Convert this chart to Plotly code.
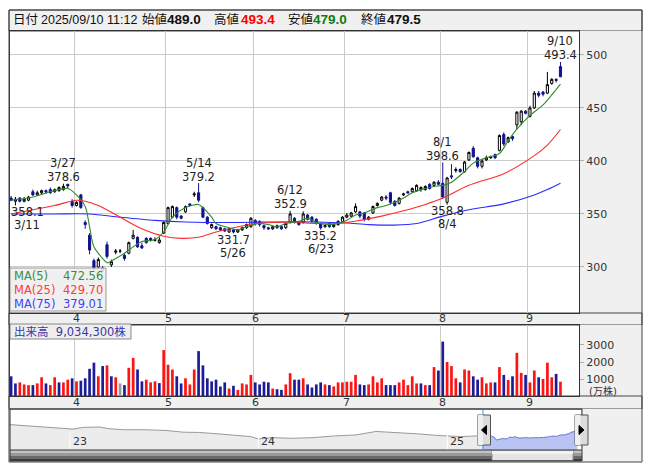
import plotly.graph_objects as go

# figure sits inside the page's default 8px body margin; coordinates below are page pixels
W, H = 637, 456
OFF = 8
def px(x): return (x - OFF) / W
def py(y): return 1 - (y - OFF) / H

# ---------------- data ----------------
MONTH_DAYS = {
    3: [10, 11, 12, 13, 14, 17, 18, 19, 21, 24, 25, 26, 27, 28, 31],
    4: [1, 2, 3, 4, 7, 8, 9, 10, 11, 14, 15, 16, 17, 18, 21, 22, 23, 24, 25, 28, 30],
    5: [1, 2, 7, 8, 9, 12, 13, 14, 15, 16, 19, 20, 21, 22, 23, 26, 27, 28, 29, 30],
    6: [2, 3, 4, 5, 6, 9, 10, 11, 12, 13, 16, 17, 18, 19, 20, 23, 24, 25, 26, 27, 30],
    7: [1, 2, 3, 4, 7, 8, 9, 10, 11, 14, 15, 16, 17, 18, 22, 23, 24, 25, 28, 29, 30, 31],
    8: [1, 4, 5, 6, 7, 8, 12, 13, 14, 15, 18, 19, 20, 21, 22, 25, 26, 27, 28, 29],
    9: [1, 2, 3, 4, 5, 8, 9, 10],
}
DATES = [f"2025-{m:02d}-{d:02d}" for m, days in MONTH_DAYS.items() for d in days]

OPEN = [365, 362, 365, 362, 363, 371, 368, 370, 372, 373, 371, 372, 373, 378, 362,
        358, 368, 342, 330, 306, 300, 299, 321, 302, 314, 315, 311, 313, 327, 328, 320, 327, 327, 325, 323, 332,
        341, 347, 356, 348, 352, 359.5, 368, 370, 356, 347, 337, 338, 337, 336, 333, 335, 333, 335, 337, 338,
        344, 343, 339, 337, 336, 339, 338, 337, 342, 346, 342, 342, 349, 347, 345, 341, 338, 341, 338, 340, 343,
        347, 348, 352, 352, 351, 345, 351, 358, 363, 366, 370, 362, 360, 368, 371, 371, 372, 373, 373, 378, 377, 380,
        379, 361, 386, 391, 392, 390, 401, 412, 403, 395, 401, 403, 406, 410, 425, 418, 423, 434, 437, 447,
        442, 450, 464, 465, 464, 473, 477, 489.0]
HIGH = [367, 366, 366, 366, 367, 373, 372, 373, 373, 375, 374, 376, 378.6, 378.4, 364,
        362, 369, 344, 332, 308, 309, 301, 324, 307, 317, 317, 313, 324, 335, 329, 323, 328, 328, 328, 328, 343,
        357, 358, 357, 349, 358, 360, 371, 379.2, 357, 348, 341, 339, 338, 337, 337, 336, 336, 338, 341, 347,
        345, 344, 340, 338, 339, 340, 339, 342, 352.9, 347, 343, 352.5, 350, 348, 346, 342, 340, 342, 341, 344, 348,
        351, 352, 360, 353, 352, 348, 358, 361, 367, 368, 371, 363, 366, 370, 372, 375, 378, 376, 377, 379, 381, 382,
        398.6, 385, 397, 394, 393, 400, 409, 414, 404, 402, 405, 405, 407, 425, 427, 423, 424, 447, 448, 448,
        452, 466, 466, 466, 484, 478, 478, 493.4]
LOW = [362, 358.1, 361, 361, 362, 367, 367, 368, 369, 369, 370, 371, 372, 374, 356,
       357, 355, 336, 312, 296, 298, 295, 308, 300, 312, 313, 306, 312, 326, 318, 317, 322, 324, 324, 322, 331,
       340, 346, 345, 345, 351, 357, 366, 361, 346, 340, 336, 335, 334, 333, 332, 331.7, 332, 334, 336, 337,
       339, 338, 335, 335, 335, 336, 335, 336, 341, 341, 339, 341, 344, 342, 340, 335.2, 337, 337, 337, 339, 342,
       346, 347, 351, 346, 343, 344, 350, 357, 362, 363, 359, 357, 359, 367, 369, 370, 371, 371, 372, 373, 376, 377,
       364, 358.8, 383, 389, 389, 389, 400, 403, 393, 393, 400, 402, 402, 409, 414, 417, 419, 430, 434, 444,
       441, 449, 460, 461, 463, 472, 474, 479.0]
CLOSE = [363, 364, 362, 364, 366, 368, 370, 372, 371, 370, 373, 375, 376, 376.5, 358,
         361, 356, 340, 316, 298, 307, 297, 310, 305, 315, 315, 308, 323, 330, 319, 318, 323, 325, 326, 325.5, 342,
         356, 357, 347, 346, 357, 358, 369, 363, 347, 341, 340, 336, 335, 334, 336, 333, 335, 337, 340, 346,
         341, 340, 337, 336, 338, 337, 336, 341, 350, 343, 340, 350, 345, 343, 341, 337, 339, 338, 340, 343, 347,
         349, 351, 357, 348, 345, 347, 357, 360, 366, 365, 361, 358, 365, 369, 370, 374, 377, 375, 376, 374, 380, 378,
         366, 384, 385, 392, 390, 399, 408, 404, 395, 400, 403, 404, 403, 424, 416, 422, 421, 446, 447, 445,
         450, 464, 462, 463, 472, 477, 476, 479.5]

# volume in 万株 and colour code (r = up, b = down, g = unchanged)
VOLUME = [1160, 740, 800, 680, 640, 640, 740, 1100, 740, 640,
          1100, 800, 800, 960, 1040, 860, 900, 1040, 1600, 1960,
          1160, 1760, 1800, 1160, 1100, 740, 640, 1660, 2240, 1560,
          860, 960, 800, 860, 760, 2700, 1840, 1560, 1160, 740,
          1040, 680, 1560, 2640, 1800, 1040, 860, 960, 560, 800,
          440, 600, 360, 740, 680, 1240, 800, 680, 840, 800,
          440, 400, 360, 680, 1340, 960, 960, 1040, 680, 500,
          680, 800, 680, 640, 560, 800, 800, 840, 840, 1240,
          680, 640, 680, 1160, 800, 1040, 640, 640, 640, 800,
          960, 640, 1160, 740, 740, 640, 640, 1700, 1500, 3200,
          2000, 1760, 1040, 800, 1560, 1500, 1160, 960, 1100, 740,
          800, 800, 1700, 1240, 940, 1160, 2540, 1360, 1240, 800,
          1500, 1100, 1000, 1960, 1100, 1300, 840]
VOL_DIR = ("bbrrrbrrbr" "rbrrbrbbbb" "rbrbrgbrrb" "brrrbrrrbb" "rrrbbbbbbb"
           "rbrrrrbbbb" "rbbrrbbrbb" "bbrbrrrrrr" "bbrrrrbbbr" "rrrrbrbrbb"
           "rrrbrrbbrr" "rbrbrbrrbr" "rbrrrbr")

# moving averages (date, value)
MA5_PTS = [("2025-03-10", 363), ("2025-03-17", 366), ("2025-03-24", 371), ("2025-03-28", 374),
           ("2025-04-01", 368), ("2025-04-03", 357), ("2025-04-04", 338), ("2025-04-07", 319),
           ("2025-04-09", 308), ("2025-04-10", 304), ("2025-04-14", 308), ("2025-04-16", 313),
           ("2025-04-18", 319), ("2025-04-22", 324), ("2025-04-25", 326), ("2025-04-30", 333),
           ("2025-05-02", 347), ("2025-05-09", 356), ("2025-05-14", 359), ("2025-05-15", 356),
           ("2025-05-19", 347), ("2025-05-20", 341), ("2025-05-23", 337), ("2025-05-27", 335),
           ("2025-05-29", 338), ("2025-06-03", 341), ("2025-06-05", 340), ("2025-06-09", 338),
           ("2025-06-11", 341), ("2025-06-16", 343), ("2025-06-18", 346), ("2025-06-20", 342),
           ("2025-06-25", 340), ("2025-06-27", 341), ("2025-07-01", 344), ("2025-07-03", 349),
           ("2025-07-07", 351), ("2025-07-10", 356), ("2025-07-14", 358), ("2025-07-16", 361),
           ("2025-07-18", 365), ("2025-07-23", 370), ("2025-07-25", 373), ("2025-07-30", 376),
           ("2025-08-01", 377), ("2025-08-05", 380), ("2025-08-08", 390), ("2025-08-13", 398),
           ("2025-08-18", 403), ("2025-08-21", 407), ("2025-08-25", 419), ("2025-08-27", 430),
           ("2025-09-01", 443), ("2025-09-04", 453), ("2025-09-10", 472.56)]
MA25_PTS = [("2025-03-10", 350), ("2025-03-17", 354), ("2025-03-25", 358), ("2025-04-01", 363),
            ("2025-04-03", 362), ("2025-04-08", 358), ("2025-04-15", 347), ("2025-04-22", 336),
            ("2025-04-30", 329), ("2025-05-08", 327), ("2025-05-14", 328), ("2025-05-20", 333),
            ("2025-05-26", 337), ("2025-06-02", 341), ("2025-06-06", 342), ("2025-06-13", 342),
            ("2025-06-20", 341), ("2025-06-27", 341), ("2025-07-04", 344), ("2025-07-11", 348),
            ("2025-07-18", 353), ("2025-07-28", 359), ("2025-08-01", 365), ("2025-08-12", 377),
            ("2025-08-22", 388), ("2025-09-02", 405), ("2025-09-05", 415), ("2025-09-10", 429.70)]
MA75_PTS = [("2025-03-10", 350), ("2025-03-25", 350), ("2025-04-04", 350), ("2025-04-15", 347),
            ("2025-04-25", 344), ("2025-05-09", 342.5), ("2025-05-23", 342), ("2025-06-06", 342.5),
            ("2025-06-20", 342.5), ("2025-07-01", 341.5), ("2025-07-08", 340), ("2025-07-16", 339.5),
            ("2025-07-24", 341), ("2025-08-01", 348), ("2025-08-12", 354), ("2025-08-22", 359.5),
            ("2025-09-02", 368), ("2025-09-05", 373), ("2025-09-10", 379.01)]

# long-term navigator line (before the displayed window)
NAV_DATES = ["2022-09-07", "2022-10-05", "2022-11-06", "2022-12-18", "2023-01-07", "2023-01-27",
             "2023-02-28", "2023-03-17", "2023-04-17", "2023-05-27", "2023-07-06", "2023-08-08",
             "2023-09-09", "2023-10-15", "2023-11-14", "2023-12-17", "2024-01-01", "2024-01-27",
             "2024-03-07", "2024-04-16", "2024-05-28", "2024-07-08", "2024-08-16", "2024-09-23",
             "2024-11-04", "2024-12-16", "2025-01-27", "2025-02-27", "2025-03-07"]
NAV_VALUES = [601, 581, 554, 534, 513, 547, 554, 520, 500, 500, 486, 452, 446, 419, 398, 365,
              317, 344, 331, 344, 378, 398, 466, 446, 419, 385, 365, 378, 365]

PRICE_TICKS = [300, 350, 400, 450, 500]
VOL_TICKS = [1000, 2000, 3000]
NAV_YEARS = [("2023-01-01", "23"), ("2024-01-01", "24"), ("2025-01-01", "25")]

PEAK_LABELS = [("2025-03-27", 378.6, "3/27"), ("2025-05-14", 379.2, "5/14"),
               ("2025-06-12", 352.9, "6/12"), ("2025-08-01", 398.6, "8/1"),
               ("2025-09-10", 493.4, "9/10")]
TROUGH_LABELS = [("2025-03-11", 358.1, "3/11"), ("2025-05-26", 331.7, "5/26"),
                 ("2025-06-23", 335.2, "6/23"), ("2025-08-04", 358.8, "8/4")]

# ---------------- derived positions ----------------
IDX = list(range(len(DATES)))
pos = {d: i for i, d in enumerate(DATES)}
month_first = []
for i, d in enumerate(DATES):
    if i > 0 and d[5:7] != DATES[i - 1][5:7]:
        month_first.append((i, str(int(d[5:7]))))

VCOL = {"r": "#ff1414", "b": "#1c1c98", "g": "#9a9a9a"}
vol_colors = [VCOL[c] for c in VOL_DIR]

FONT = "DejaVu Sans, Noto Sans CJK JP"

fig = go.Figure()

fig.add_trace(go.Candlestick(
    x=IDX, open=OPEN, high=HIGH, low=LOW, close=CLOSE,
    increasing=dict(line=dict(color="#000000", width=1), fillcolor="#ffffff"),
    decreasing=dict(line=dict(color="#121290", width=1), fillcolor="#121290"),
    whiskerwidth=0, xaxis="x", yaxis="y", showlegend=False, hoverinfo="skip"))

for pts, col in [(MA75_PTS, "#2b2bff"), (MA25_PTS, "#ff2a2a"), (MA5_PTS, "#2e8b2e")]:
    fig.add_trace(go.Scatter(
        x=[pos[d] for d, _ in pts], y=[v for _, v in pts], mode="lines",
        line=dict(color=col, width=1.1, shape="spline", smoothing=0.8),
        xaxis="x", yaxis="y", showlegend=False, hoverinfo="skip"))

fig.add_trace(go.Bar(x=IDX, y=VOLUME, marker=dict(color=vol_colors, line=dict(width=0)),
                     width=0.62, xaxis="x2", yaxis="y2", showlegend=False, hoverinfo="skip"))

fig.add_trace(go.Scatter(x=NAV_DATES + [DATES[0]], y=NAV_VALUES + [CLOSE[0]], mode="lines",
                         line=dict(color="#9a9a9a", width=1), fill="tozeroy", fillcolor="#ececec",
                         xaxis="x3", yaxis="y3", showlegend=False, hoverinfo="skip"))
fig.add_trace(go.Scatter(x=DATES, y=CLOSE, mode="lines",
                         line=dict(color="#6b77cc", width=1), fill="tozeroy", fillcolor="#b9c4f4",
                         xaxis="x3", yaxis="y3", showlegend=False, hoverinfo="skip"))

grid_vals = [i - 0.5 for i, _ in month_first]
xcommon = dict(range=[-0.25, 130.25], tickvals=grid_vals, showgrid=True, gridcolor="#cbcbcb",
               gridwidth=1, showticklabels=False, ticks="", zeroline=False,
               showline=True, linecolor="#333333", linewidth=1, mirror=True, fixedrange=True)

fig.update_layout(
    width=W, height=H, margin=dict(l=0, r=0, t=0, b=0),
    paper_bgcolor="white", plot_bgcolor="white", showlegend=False,
    hovermode=False, dragmode=False, font=dict(family=FONT, size=11, color="#222"),
    xaxis=dict(domain=[px(10), px(579)], anchor="y", rangeslider=dict(visible=False), **xcommon),
    yaxis=dict(domain=[py(313), py(31)], range=[256.6, 522.6], side="right",
               tickvals=PRICE_TICKS, showgrid=True, gridcolor="#cbcbcb", zeroline=False,
               ticks="outside", ticklen=4, tickcolor="#b0b0b0",
               tickfont=dict(family=FONT, size=11, color="#333"),
               showline=True, linecolor="#333333", mirror=True, fixedrange=True),
    xaxis2=dict(domain=[px(10), px(579)], anchor="y2", **xcommon),
    yaxis2=dict(domain=[py(396), py(325)], range=[0, 4176], side="right",
                tickvals=VOL_TICKS, showgrid=False, zeroline=False,
                ticks="outside", ticklen=4, tickcolor="#b0b0b0",
                tickfont=dict(family=FONT, size=11, color="#333"),
                showline=True, linecolor="#333333", mirror=True, fixedrange=True),
    xaxis3=dict(domain=[px(10), px(582)], anchor="y3", type="date",
                range=["2022-09-07", "2025-09-19"], showgrid=False, showticklabels=False,
                ticks="", zeroline=False, showline=False, fixedrange=True),
    yaxis3=dict(domain=[py(450), py(411)], range=[100, 870], visible=False, fixedrange=True),
)

shapes = []
def rect(x0, y0, x1, y1, fill=None, line=None, lw=1, layer="below"):
    shapes.append(dict(type="rect", xref="paper", yref="paper",
                       x0=px(x0), x1=px(x1), y0=py(y1), y1=py(y0),
                       fillcolor=fill if fill else "rgba(0,0,0,0)",
                       line=dict(color=line if line else "rgba(0,0,0,0)", width=lw if line else 0),
                       layer=layer))
def hline(x0, x1, y, color, w=1, layer="above"):
    shapes.append(dict(type="line", xref="paper", yref="paper", x0=px(x0), x1=px(x1),
                       y0=py(y), y1=py(y), line=dict(color=color, width=w), layer=layer))
def vline(x, y0, y1, color, w=1, layer="above"):
    shapes.append(dict(type="line", xref="paper", yref="paper", x0=px(x), x1=px(x),
                       y0=py(y0), y1=py(y1), line=dict(color=color, width=w), layer=layer))

# panels
rect(9, 10, 642, 31, fill="#f0f0f0", line="#444")
rect(579, 31, 642, 313, fill="#f0f0f0")
rect(9, 313, 642, 325, fill="#f0f0f0", line="#444")
rect(579, 325, 642, 396, fill="#f0f0f0")
rect(9, 396, 642, 409, fill="#f0f0f0", line="#444")
rect(582, 409, 642, 462, fill="#f0f0f0")
# navigator year lines
for d, _ in NAV_YEARS:
    shapes.append(dict(type="line", xref="x3", yref="paper", x0=d, x1=d, y0=py(450), y1=py(433),
                       line=dict(color="white", width=1), layer="above"))
# scrollbar
rect(10, 450, 582, 453, fill="#c4c4c4")
rect(10, 453, 582, 456, fill="#9a9a9a")
rect(10, 456, 582, 459, fill="#6a6a6a")
rect(10, 459, 582, 461, fill="#3c3c3c")
rect(492, 450.5, 573, 460.5, fill="#e4e4e4", line="#8a8a8a", layer="above")
rect(492, 450.5, 573, 454, fill="#f2f2f2", layer="above")
hline(10, 582, 450, "#333")
rect(10, 409, 582, 461, line="#333", layer="above")
# selection markers
vline(483, 410, 450, "#2aa7d8")
vline(581.5, 410, 450, "#2aa7d8")
for cx, direction in [(484, -1), (581.5, 1)]:
    rect(cx - 6.5, 415, cx + 6.5, 445, fill="#dcdcdc", line="#555", layer="above")
    rect(cx - 6.5, 415, cx - 1, 445, fill="#efefef", layer="above")
    tip = cx + 2.5 * direction
    base = cx - 2.5 * direction
    shapes.append(dict(type="path", xref="paper", yref="paper",
                       path=f"M {px(base)},{py(425.5)} L {px(tip)},{py(430)} L {px(base)},{py(434.5)} Z",
                       fillcolor="#000", line=dict(color="#000", width=1), layer="above"))
# legend boxes
rect(10, 268, 106, 311, fill="rgba(238,238,238,0.88)", line="#999", layer="above")
rect(10, 324, 131, 339, fill="#eeeeee", line="#888", layer="above")
# outer frame
rect(9, 10, 642, 462, line="#444", layer="above")
fig.update_layout(shapes=shapes)

ann = []
def text(x, y, s, color="#222", size=11, xanchor="left", family=FONT, xref="paper", yref="paper"):
    ann.append(dict(x=x, y=y, xref=xref, yref=yref, text=s, showarrow=False,
                    xanchor=xanchor, yanchor="middle",
                    font=dict(family=family, size=size, color=color)))

HFONT = "Liberation Sans, Noto Sans CJK JP"
header = [(11, "日付", "#111", 12.5), (39, "2025/09/10 11:12", "#111", 12.5),
          (140, "始値", "#111", 12.5), (165, "<b>489.0</b>", "#111", 13.5),
          (212, "高値", "#111", 12.5), (239, "<b>493.4</b>", "#ff0000", 13.5),
          (286, "安値", "#111", 12.5), (311, "<b>479.0</b>", "#137a13", 13.5),
          (359, "終値", "#111", 12.5), (385, "<b>479.5</b>", "#111", 13.5)]
for x, s, c, sz in header:
    text(px(x), py(20), s, color=c, size=sz, family=HFONT)

for i, lab in month_first:
    text(i, py(318.5), lab, color="#333", size=11, xanchor="center", xref="x")
    text(i, py(402.5), lab, color="#333", size=11, xanchor="center", xref="x")

def price_label(d, v, s, shift, xshift=0):
    ann.append(dict(x=pos[d], y=v, xref="x", yref="y", text=s, showarrow=False,
                    xanchor="center", yanchor="middle", yshift=shift, xshift=xshift,
                    font=dict(family=FONT, size=11.5, color="#222")))

for d, v, lab in PEAK_LABELS:
    price_label(d, v, lab, 20.5)
    price_label(d, v, f"{v:.1f}", 6.5)
for d, v, lab in TROUGH_LABELS:
    xs = 12 if d == "2025-03-11" else 0
    price_label(d, v, f"{v:.1f}", -6.5, xs)
    price_label(d, v, lab, -19.5, xs)

MA_LEG = [("MA(5)", "472.56", "#3c8c3c", 275.5), ("MA(25)", "429.70", "#ff3a3a", 289.5),
          ("MA(75)", "379.01", "#3f3fff", 303.5)]
for name, val, col, y in MA_LEG:
    text(px(12), py(y), name, color=col, size=11.5)
    text(px(105), py(y), val, color=col, size=11.5, xanchor="right")

text(px(12), py(331.5), "出来高  9,034,300株", color="#3838a8", size=11.5)
text(px(603), py(391), "(万株)", color="#333", size=10, xanchor="center")

for d, lab in NAV_YEARS:
    ann.append(dict(x=d, y=py(441), xref="x3", yref="paper", text=lab, showarrow=False,
                    xanchor="left", yanchor="middle", xshift=1,
                    font=dict(family=FONT, size=11, color="#333")))

fig.update_layout(annotations=ann)
fig.write_html("out.html")
